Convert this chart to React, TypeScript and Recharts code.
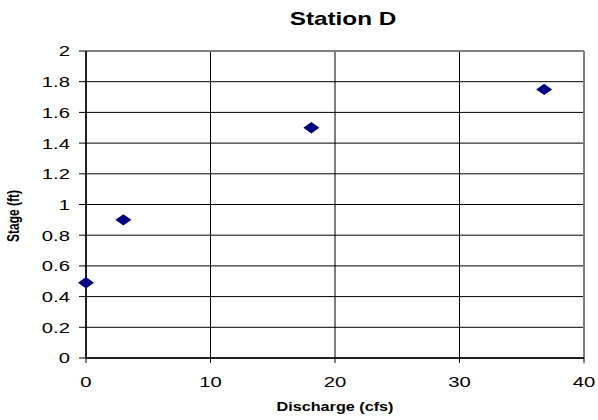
import { ScatterChart, Scatter, XAxis, YAxis, CartesianGrid, ReferenceLine } from 'recharts';

// Stage–discharge readings, Station D
const discharge = [0, 3, 18.1, 36.8];
const stage = [0.49, 0.9, 1.5, 1.75];

const xTicks = [0, 10, 20, 30, 40];
const yTicks = [0, 0.2, 0.4, 0.6, 0.8, 1, 1.2, 1.4, 1.6, 1.8, 2];

const title = 'Station D';
const xTitle = 'Discharge (cfs)';
const yTitle = 'Stage (ft)';

const FONT = '"Liberation Sans", Arial, sans-serif';
const STRETCH = 1.35; // the source image is stretched sideways

const points = discharge.map((d, i) => ({ x: d, y: stage[i] }));

function YTick(props: any) {
  const { x, y, payload } = props;
  return (
    <text
      transform={`translate(${x},${y}) scale(${STRETCH},1)`}
      textAnchor="end"
      dy="0.36em"
      fontSize={15}
      fontFamily={FONT}
      fill="#000"
    >
      {payload.value}
    </text>
  );
}

function XTick(props: any) {
  const { x, payload } = props;
  return (
    <text
      transform={`translate(${x},387) scale(${STRETCH},1)`}
      textAnchor="middle"
      fontSize={15}
      fontFamily={FONT}
      fill="#000"
    >
      {payload.value}
    </text>
  );
}

function Diamond(props: any) {
  const { cx, cy } = props;
  const w = 8;
  const h = 5.7;
  return (
    <polygon
      points={`${cx - w},${cy} ${cx},${cy - h} ${cx + w},${cy} ${cx},${cy + h}`}
      fill="#000080"
    />
  );
}

export default function App() {
  return (
    <div style={{ position: 'absolute', left: 0, top: 0, width: 598, height: 420, background: '#fff' }}>
      <ScatterChart width={598} height={420} margin={{ top: 51, right: 14, left: 0, bottom: 0 }}>
        <CartesianGrid stroke="#000" strokeWidth={1} />
        <XAxis
          type="number"
          dataKey="x"
          domain={[0, 40]}
          ticks={xTicks}
          height={62}
          tickSize={5}
          tickMargin={2}
          tick={<XTick />}
          axisLine={{ stroke: '#000', strokeWidth: 1.5 }}
          tickLine={{ stroke: '#000' }}
        />
        <YAxis
          type="number"
          dataKey="y"
          domain={[0, 2]}
          ticks={yTicks}
          width={86}
          tickSize={7}
          tickMargin={9}
          tick={<YTick />}
          axisLine={{ stroke: '#000', strokeWidth: 1.5 }}
          tickLine={{ stroke: '#000' }}
        />
        <ReferenceLine y={2} stroke="#808080" strokeWidth={2} />
        <ReferenceLine x={40} stroke="#808080" strokeWidth={2} />
        <Scatter data={points} shape={<Diamond />} isAnimationActive={false} />
      </ScatterChart>
      <svg
        width={598}
        height={420}
        style={{ position: 'absolute', left: 0, top: 0, pointerEvents: 'none' }}
      >
        <text
          transform={`translate(343,25) scale(${STRETCH},1)`}
          textAnchor="middle"
          fontSize={18}
          fontWeight="bold"
          fontFamily={FONT}
          fill="#000"
        >
          {title}
        </text>
        <text
          transform={`translate(335,411) scale(${STRETCH},1)`}
          textAnchor="middle"
          fontSize={12}
          fontWeight="bold"
          fontFamily={FONT}
          fill="#000"
        >
          {xTitle}
        </text>
        <text
          transform={`translate(19,216) scale(${STRETCH},1) rotate(-90)`}
          textAnchor="middle"
          fontSize={12}
          fontWeight="bold"
          fontFamily={FONT}
          fill="#000"
        >
          {yTitle}
        </text>
      </svg>
    </div>
  );
}
